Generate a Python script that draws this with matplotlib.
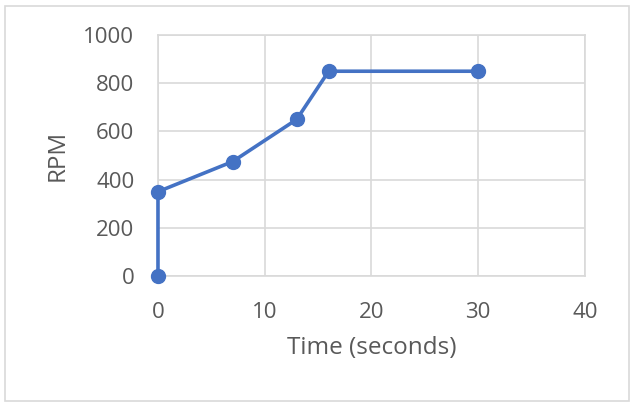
import matplotlib.pyplot as plt
from matplotlib.patches import Rectangle

# data
time_s = [0, 0, 7, 13, 16, 30]
rpm = [0, 350, 475, 650, 850, 850]
x_ticks = [0, 10, 20, 30, 40]
y_ticks = [0, 200, 400, 600, 800, 1000]

plt.rcParams['font.family'] = ['Open Sans', 'DejaVu Sans']
grey_txt = '#595959'
grid_col = '#d9d9d9'

fig = plt.figure(figsize=(6.37, 4.08), dpi=100)
fig.patches.append(Rectangle((0.008, 0.017), 0.98, 0.968, transform=fig.transFigure,
                             fill=False, edgecolor=grid_col, linewidth=1.2))
ax = fig.add_axes([0.248, 0.3235, 0.67, 0.5905])

ax.plot(time_s, rpm, color='#4472C4', linewidth=2.6, marker='o', markersize=10,
        clip_on=False, zorder=3)

ax.set_xlim(0, 40)
ax.set_ylim(0, 1000)
ax.set_xticks(x_ticks)
ax.set_yticks(y_ticks)
ax.grid(True, color=grid_col, linewidth=1.2)
ax.set_axisbelow(True)
for s in ax.spines.values():
    s.set_color(grid_col)
    s.set_linewidth(1.2)
ax.tick_params(length=0, labelsize=16, labelcolor=grey_txt)
ax.tick_params(axis='x', pad=19)
ax.tick_params(axis='y', pad=17)

ax.set_xlabel('Time (seconds)', fontsize=17.5, color=grey_txt, labelpad=9)
ax.set_ylabel('RPM', fontsize=17.5, color=grey_txt, labelpad=10)

fig.savefig('out.png', dpi=100)
